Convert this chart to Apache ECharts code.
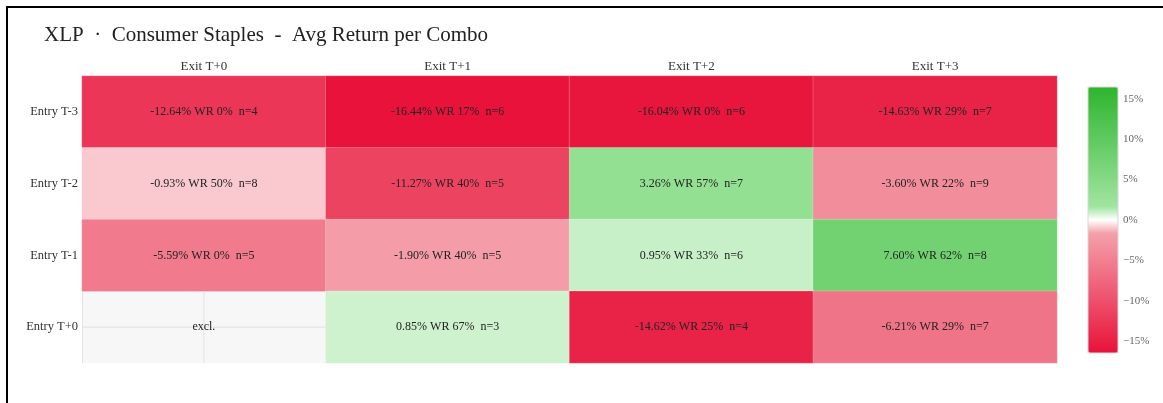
<!DOCTYPE html>
<html>
<head>
<meta charset="utf-8">
<script src="https://cdn.jsdelivr.net/npm/echarts@6/dist/echarts.min.js"></script>
<style>
html,body{margin:0;padding:0;background:#fff;overflow:hidden;}
#chart{position:absolute;left:0;top:0;width:1163px;height:403px;}
#frame{position:absolute;left:6px;top:6px;width:1300px;height:600px;border:2px solid #000;pointer-events:none;}
</style>
</head>
<body>
<div id="chart"></div>
<div id="frame"></div>
<script>
const titleText = 'XLP  ·  Consumer Staples  -  Avg Return per Combo';
const exitLabels = ['Exit T+0', 'Exit T+1', 'Exit T+2', 'Exit T+3'];
const entryLabels = ['Entry T-3', 'Entry T-2', 'Entry T-1', 'Entry T+0'];
// rows = entry (top to bottom), cols = exit
const avgReturn = [
  [-12.64, -16.44, -16.04, -14.63],
  [-0.93, -11.27, 3.26, -3.60],
  [-5.59, -1.90, 0.95, 7.60],
  [null, 0.85, -14.62, -6.21]
];
const winRate = [
  [0, 17, 0, 29],
  [50, 40, 57, 22],
  [0, 40, 33, 62],
  [null, 67, 25, 29]
];
const counts = [
  [4, 6, 6, 7],
  [8, 5, 7, 9],
  [5, 5, 6, 8],
  [null, 3, 4, 7]
];
const excludedCells = [[0, 3]]; // [exitIndex, entryIndex]
const colorbarTicks = [-15, -10, -5, 0, 5, 10, 15];
const zLimit = 16.44;

// colour scale (style)
const scaleStops = [
  [0, [232, 18, 58]],
  [0.45, [244, 160, 170]],
  [0.5, [255, 255, 255]],
  [0.55, [160, 229, 160]],
  [1, [45, 181, 45]]
];
function scaleColor(f) {
  for (let i = 1; i < scaleStops.length; i++) {
    if (f <= scaleStops[i][0]) {
      const a = scaleStops[i - 1], b = scaleStops[i];
      const t = (f - a[0]) / (b[0] - a[0]);
      const c = a[1].map((v, k) => Math.round(v + (b[1][k] - v) * t));
      return 'rgb(' + c.join(',') + ')';
    }
  }
  const l = scaleStops[scaleStops.length - 1][1];
  return 'rgb(' + l.join(',') + ')';
}
const colorList = [];
for (let i = 0; i <= 200; i++) colorList.push(scaleColor(i / 200));

const heatData = [];
avgReturn.forEach((row, r) => row.forEach((v, c) => {
  if (v !== null) heatData.push([c, r, v, winRate[r][c], counts[r][c]]);
}));

function fmtPct(v) { return v.toFixed(2) + '%'; }

const FONT = '"Liberation Serif", "DejaVu Serif", serif';

const chart = echarts.init(document.getElementById('chart'), null, { renderer: 'canvas' });
chart.setOption({
  backgroundColor: '#ffffff',
  animation: false,
  title: {
    text: titleText,
    left: 39,
    top: 20,
    textStyle: { fontFamily: FONT, fontSize: 21, fontWeight: 'normal', color: '#222' }
  },
  grid: [
    { left: 82, top: 76, width: 975, height: 287, show: true, backgroundColor: '#f7f7f7', borderWidth: 0 },
    { left: 1088, top: 87, width: 30, height: 266, show: true, backgroundColor: 'transparent', borderColor: '#d8d8d8', borderWidth: 1, z: 10 }
  ],
  xAxis: [
    {
      type: 'category', gridIndex: 0, data: exitLabels, position: 'top',
      axisTick: { show: false },
      axisLine: { show: true, lineStyle: { color: '#e4e4e4' } },
      axisLabel: { margin: 3, fontFamily: FONT, fontSize: 13, color: '#333' },
      splitLine: { show: false }
    },
    { type: 'value', gridIndex: 1, show: false, min: 0, max: 1 }
  ],
  yAxis: [
    {
      type: 'category', gridIndex: 0, data: entryLabels, inverse: true,
      axisTick: { show: false },
      axisLine: { show: true, lineStyle: { color: '#e4e4e4' } },
      axisLabel: { margin: 4, fontFamily: FONT, fontSize: 12.5, color: '#333' },
      splitLine: { show: false }
    },
    {
      type: 'value', gridIndex: 1, position: 'right', min: -zLimit, max: zLimit,
      axisLine: { show: false }, axisTick: { show: false }, splitLine: { show: false },
      axisLabel: {
        show: true, margin: 5, fontFamily: FONT, fontSize: 11, color: '#666',
        customValues: colorbarTicks,
        formatter: v => (v < 0 ? '\u2212' + Math.abs(v) : String(v)) + '%'
      }
    }
  ],
  visualMap: {
    type: 'continuous',
    min: -zLimit, max: zLimit,
    dimension: 2,
    seriesIndex: 0,
    orient: 'vertical',
    left: 1088, top: 87,
    itemWidth: 30, itemHeight: 266,
    padding: 0,
    calculable: false,
    showLabel: false,
    text: null,
    inRange: { color: colorList }
  },
  series: [
    {
      type: 'heatmap',
      xAxisIndex: 0, yAxisIndex: 0,
      data: heatData,
      itemStyle: { borderColor: 'rgba(255,255,255,0.35)', borderWidth: 0.6 },
      label: {
        show: true,
        fontFamily: FONT, fontSize: 12, color: '#222',
        formatter: p => fmtPct(p.data[2]) + ' WR ' + p.data[3] + '%  n=' + p.data[4]
      },
      emphasis: { disabled: true }
    },
    {
      type: 'custom',
      xAxisIndex: 0, yAxisIndex: 0,
      data: excludedCells,
      renderItem: function (params, api) {
        const c = api.coord([api.value(0), api.value(1)]);
        const s = api.size([1, 1]);
        const x0 = c[0] - s[0] / 2, y0 = c[1] - s[1] / 2;
        return {
          type: 'group',
          children: [
            { type: 'line', shape: { x1: x0, y1: c[1], x2: x0 + s[0], y2: c[1] }, style: { stroke: '#e2e2e2', lineWidth: 1 } },
            { type: 'line', shape: { x1: c[0], y1: y0, x2: c[0], y2: y0 + s[1] }, style: { stroke: '#e2e2e2', lineWidth: 1 } },
            { type: 'text', x: c[0], y: c[1], style: { text: 'excl.', fontFamily: FONT, fontSize: 12, fill: '#222', align: 'center', verticalAlign: 'middle' } }
          ]
        };
      }
    }
  ]
});
</script>
</body>
</html>
